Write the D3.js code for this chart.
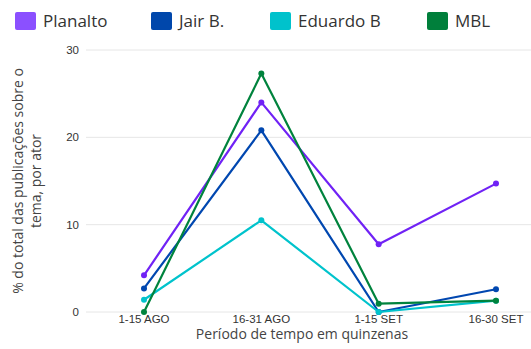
<!DOCTYPE html>
<html><head><meta charset="utf-8">
<script src="https://cdn.jsdelivr.net/npm/d3@7"></script>
<style>body{margin:0;background:#fff}svg{display:block}</style>
</head><body>
<svg id="c" width="531" height="349"></svg>
<script>
const categories = ["1-15 AGO","16-31 AGO","1-15 SET","16-30 SET"];
const seriesNames = ["Planalto","Jair B.","Eduardo B","MBL"];
const planalto = [4.2, 24.0, 7.75, 14.7];
const jair = [2.7, 20.8, 0, 2.6];
const eduardo = [1.4, 10.5, 0, 1.3];
const mbl = [0, 27.3, 0.95, 1.3];
const yTicks = [0,10,20,30];
const lineColors = ["#7022f5","#0047b0","#00c3cc","#00833d"];
const legendColors = ["#8b50ff","#0047ab","#00c2cc","#007f3b"];

const series = [planalto, jair, eduardo, mbl];
const svg = d3.select("#c");
const x = d3.scalePoint().domain(categories).range([144,496]);
const y = d3.scaleLinear().domain([0,30]).range([312,50]);

svg.append("g").selectAll("line").data(yTicks).join("line")
  .attr("x1",86).attr("x2",531).attr("y1",d=>y(d)).attr("y2",d=>y(d))
  .attr("stroke","#e6e6e6").attr("stroke-width",1);
svg.append("g").selectAll("text").data(yTicks).join("text")
  .attr("x",79).attr("y",d=>y(d)+4).attr("text-anchor","end")
  .attr("font-family","Liberation Sans, Arial, sans-serif").attr("font-size",11.5)
  .attr("fill","#333").text(d=>d);
svg.append("g").selectAll("text").data(categories).join("text")
  .attr("x",d=>x(d)).attr("y",323).attr("text-anchor","middle")
  .attr("font-family","Liberation Sans, Arial, sans-serif").attr("font-size",11.5)
  .attr("fill","#333").text(d=>d);
svg.append("text").attr("x",302).attr("y",339).attr("text-anchor","middle")
  .attr("font-family","Open Sans, Noto Sans, sans-serif").attr("font-size",14)
  .attr("fill","#444").text("Período de tempo em quinzenas");
const yt = svg.append("text").attr("transform","translate(0,181) rotate(-90)")
  .attr("text-anchor","middle").attr("font-family","Open Sans, Noto Sans, sans-serif")
  .attr("font-size",14).attr("fill","#444");
yt.append("tspan").attr("x",0).attr("y",23).text("% do total das publicações sobre o");
yt.append("tspan").attr("x",0).attr("y",41).text("tema, por ator");

const line = d3.line().x((d,i)=>x(categories[i])).y(d=>y(d));
series.forEach((s,k)=>{
  svg.append("path").datum(s).attr("d",line).attr("fill","none")
    .attr("stroke",lineColors[k]).attr("stroke-width",2.2).attr("stroke-linejoin","round");
  svg.append("g").selectAll("circle").data(s).join("circle")
    .attr("cx",(d,i)=>x(categories[i])).attr("cy",d=>y(d)).attr("r",3)
    .attr("fill",lineColors[k]);
});

const legX = [15,151,270,427];
const lg = svg.append("g");
seriesNames.forEach((n,k)=>{
  lg.append("rect").attr("x",legX[k]).attr("y",12).attr("width",21).attr("height",18)
    .attr("rx",2).attr("fill",legendColors[k]);
  lg.append("text").attr("x",legX[k]+28).attr("y",27)
    .attr("font-family","Open Sans, Noto Sans, sans-serif").attr("font-size",17)
    .attr("fill","#333").text(n);
});
</script>
</body></html>
